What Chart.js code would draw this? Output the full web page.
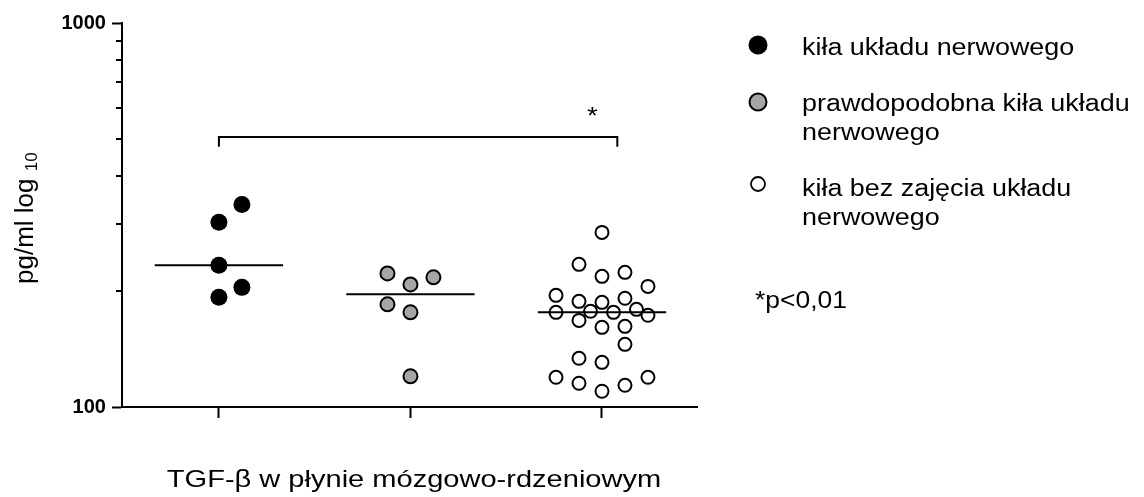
<!DOCTYPE html>
<html lang="pl">
<head>
  <meta charset="UTF-8">
  <title>TGF-β w płynie mózgowo-rdzeniowym</title>
  <script src="https://cdn.jsdelivr.net/npm/chart.js"></script>
  <style>
    html, body { margin: 0; padding: 0; background: #fff; }
  </style>
</head>
<body>
  <canvas id="wykres" width="1144" height="497"></canvas>

  <script>
    // dane (pg/ml)
    const grupy = ['kiła układu nerwowego', 'prawdopodobna kiła układu nerwowego', 'kiła bez zajęcia układu nerwowego'];
    const pozycje = [1, 2, 3];
    const yZnaczniki = [100, 200, 300, 400, 500, 600, 700, 800, 900, 1000];
    const yEtykiety = [100, 1000];

    const grupa1 = [337, 302.6, 233.8, 204.9, 193];
    const grupa1x = [1.12, 1.0, 1.0, 1.12, 1.0];

    const grupa2 = [222.8, 217.6, 208.6, 185.1, 176.4, 120.2];
    const grupa2x = [1.88, 2.12, 2.0, 1.88, 2.0, 2.0];

    const grupa3 = [284.9, 235.2, 224.2, 218.9, 206.1, 195.3, 191.9, 188.4, 187.3, 176.4, 177.5, 176.4, 179.6, 173.3,
                    168.1, 162.2, 161.2, 145.6, 133.9, 130.7, 119.5, 119.5, 115.3, 113.9, 109.9];
    const grupa3x = [3.0, 2.88, 3.12, 3.0, 3.24, 2.76, 3.12, 2.88, 3.0, 2.76, 2.94, 3.06, 3.18, 3.24,
                     2.88, 3.12, 3.0, 3.12, 2.88, 3.0, 2.76, 3.24, 2.88, 3.12, 3.0];

    const mediany = [233.8, 196.6, 176.4];

    // nawias istotności między grupą 1 i 3
    const nawiasX = [1.0, 3.08];
    const nawiasY = [476, 505];
    const pWartosc = '*p<0,01';

    const punkty = (xs, ys) => ys.map((v, i) => ({ x: xs[i], y: v }));
    const mediana = i => [{ x: pozycje[i] - 0.335, y: mediany[i] }, { x: pozycje[i] + 0.335, y: mediany[i] }];

    const linia = data => ({
      type: 'line', data, borderColor: '#000', borderWidth: 2, pointRadius: 0,
      fill: false, tension: 0, order: 0
    });

    function tekst(ctx, s, px, py, size, sx, align) {
      ctx.save();
      ctx.translate(px, py);
      ctx.scale(sx, 1);
      ctx.font = size + 'px "Liberation Sans", Arial, sans-serif';
      ctx.textAlign = align || 'left';
      ctx.textBaseline = 'alphabetic';
      ctx.fillStyle = '#000';
      ctx.fillText(s, 0, 0);
      ctx.restore();
    }

    function kolko(ctx, px, py, r, fill, bw) {
      ctx.beginPath();
      ctx.arc(px, py, r, 0, Math.PI * 2);
      ctx.fillStyle = fill;
      ctx.fill();
      if (bw) { ctx.lineWidth = bw; ctx.strokeStyle = '#000'; ctx.stroke(); }
    }

    const dekoracje = {
      id: 'dekoracje',
      afterDraw(chart) {
        const { ctx, scales: { x, y } } = chart;
        ctx.save();

        // drobne znaczniki osi Y
        ctx.strokeStyle = '#000';
        ctx.lineWidth = 2;
        yZnaczniki.forEach(v => {
          if (yEtykiety.includes(v)) return;
          const py = Math.round(y.getPixelForValue(v));
          ctx.beginPath();
          ctx.moveTo(x.left - 6, py);
          ctx.lineTo(x.left, py);
          ctx.stroke();
        });

        // gwiazdka nad nawiasem
        const gx = x.getPixelForValue(2.95);
        const gy = y.getPixelForValue(nawiasY[1]) - 13;
        tekst(ctx, '*', gx, gy, 23, 1.2, 'center');

        // tytuł osi Y (obrócony)
        ctx.save();
        ctx.translate(33, 284);
        ctx.rotate(-Math.PI / 2);
        ctx.font = '26px "Liberation Sans", Arial, sans-serif';
        ctx.fillStyle = '#000';
        ctx.textBaseline = 'alphabetic';
        const s1 = 'pg/ml log ';
        ctx.fillText(s1, 0, 0);
        const w1 = ctx.measureText(s1).width;
        ctx.font = '17px "Liberation Sans", Arial, sans-serif';
        ctx.fillText('10', w1, 4);
        ctx.restore();

        // tytuł osi X
        tekst(ctx, 'TGF-β w płynie mózgowo-rdzeniowym', 414, 487, 24, 1.21, 'center');

        // legenda
        kolko(ctx, 758, 45, 9.5, '#000', 0);
        tekst(ctx, 'kiła układu nerwowego', 802, 55, 23, 1.17);

        kolko(ctx, 758, 102, 8.5, '#a6a6a8', 2);
        tekst(ctx, 'prawdopodobna kiła układu', 802, 111, 23, 1.17);
        tekst(ctx, 'nerwowego', 802, 140, 23, 1.17);

        kolko(ctx, 758, 184, 7, '#fff', 1.8);
        tekst(ctx, 'kiła bez zajęcia układu', 802, 196, 23, 1.17);
        tekst(ctx, 'nerwowego', 802, 225, 23, 1.17);

        tekst(ctx, pWartosc, 755, 308, 23, 1.15);

        ctx.restore();
      }
    };

    const ctx = document.getElementById('wykres').getContext('2d');
    const wykres = new Chart(ctx, {
      type: 'scatter',
      data: {
        datasets: [
          { label: grupy[0], data: punkty(grupa1x, grupa1), backgroundColor: '#000', borderColor: '#000',
            borderWidth: 0, pointRadius: 8.5, order: 1 },
          { label: grupy[1], data: punkty(grupa2x, grupa2), backgroundColor: '#a6a6a8', borderColor: '#000',
            borderWidth: 2, pointRadius: 7, order: 1 },
          { label: grupy[2], data: punkty(grupa3x, grupa3), backgroundColor: '#fff', borderColor: '#000',
            borderWidth: 2, pointRadius: 6.5, order: 1 },
          linia(mediana(0)),
          linia(mediana(1)),
          linia(mediana(2)),
          linia([{ x: nawiasX[0], y: nawiasY[0] }, { x: nawiasX[0], y: nawiasY[1] },
                 { x: nawiasX[1], y: nawiasY[1] }, { x: nawiasX[1], y: nawiasY[0] }])
        ]
      },
      options: {
        responsive: false,
        animation: false,
        layout: { padding: { left: 55.5, right: 447, top: 23, bottom: 79 } },
        plugins: { legend: { display: false }, tooltip: { enabled: false } },
        scales: {
          x: {
            type: 'linear', min: 0.494, max: 3.496,
            afterBuildTicks: s => { s.ticks = pozycje.map(v => ({ value: v })); },
            ticks: { display: false },
            grid: { drawOnChartArea: false, tickLength: 11, tickColor: '#000', tickWidth: 2 },
            border: { color: '#000', width: 2 }
          },
          y: {
            type: 'logarithmic', min: 100, max: 1000,
            afterBuildTicks: s => { s.ticks = yZnaczniki.map(v => ({ value: v })); },
            ticks: {
              autoSkip: false, padding: 6, color: '#000',
              font: { family: '"Liberation Sans", Arial, sans-serif', size: 20, weight: 'bold' },
              callback: v => yEtykiety.includes(v) ? String(v) : ''
            },
            grid: {
              drawOnChartArea: false, tickLength: 10, tickWidth: 2,
              tickColor: c => yEtykiety.includes(c.tick.value) ? '#000' : 'rgba(0,0,0,0)'
            },
            border: { color: '#000', width: 2 }
          }
        }
      },
      plugins: [dekoracje]
    });
  </script>
</body>
</html>
